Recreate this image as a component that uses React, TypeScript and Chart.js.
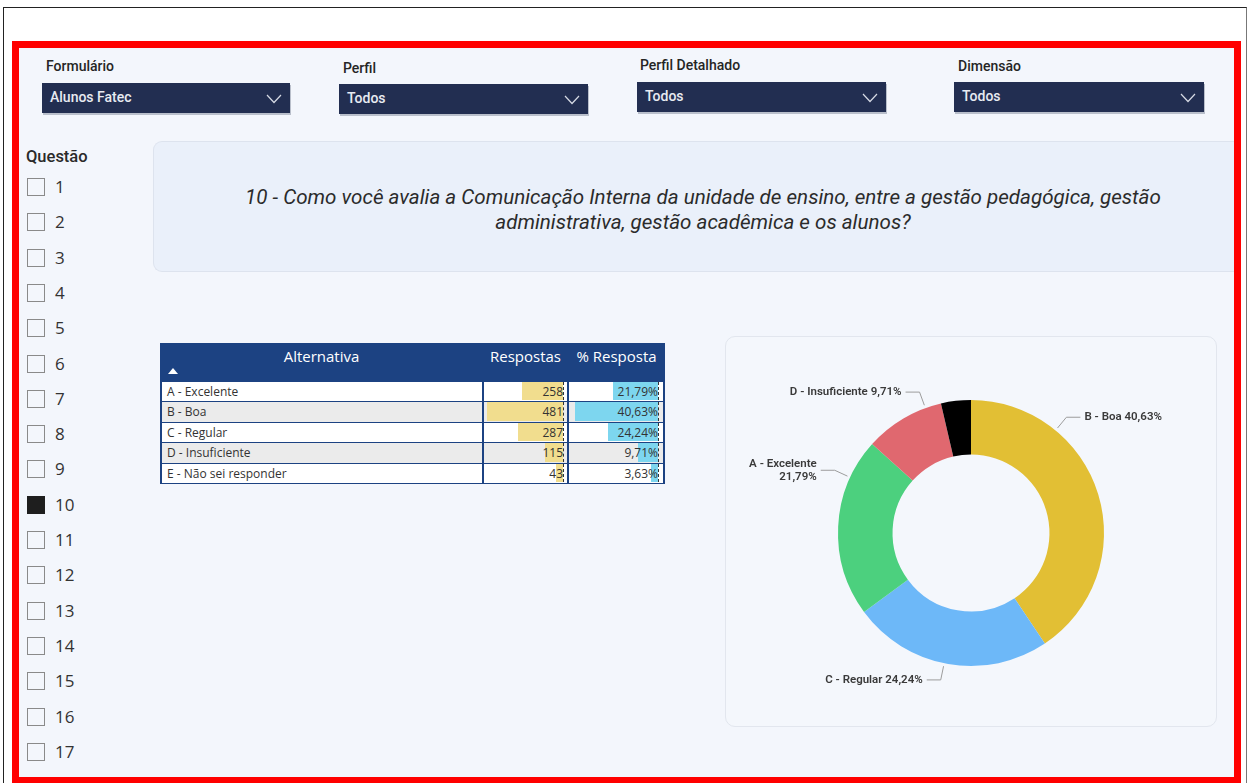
import React, { useEffect, useRef } from 'react';
import { Chart, registerables } from 'chart.js';

Chart.register(...registerables);

// ---------- DATA ----------
const alternatives = ['A - Excelente', 'B - Boa', 'C - Regular', 'D - Insuficiente', 'E - Não sei responder'];
const responses = [258, 481, 287, 115, 43];
const percents = [21.79, 40.63, 24.24, 9.71, 3.63];
const sliceColors = ['#4CD07E', '#E2BF34', '#6DB8F8', '#E0686F', '#000000'];

const filterLabels = ['Formulário', 'Perfil', 'Perfil Detalhado', 'Dimensão'];
const filterValues = ['Alunos Fatec', 'Todos', 'Todos', 'Todos'];

const questionNumbers = [1, 2, 3, 4, 5, 6, 7, 8, 9, 10, 11, 12, 13, 14, 15, 16, 17];
const selectedQuestion = 10;
const questionTitle = [
  '10 - Como você avalia a Comunicação Interna da unidade de ensino, entre a gestão pedagógica, gestão',
  'administrativa, gestão acadêmica e os alunos?',
];

// ---------- LAYOUT / STYLE (not data) ----------
// where along each slice (0..1) the leader line is attached; null = no label
const labelAnchorFrac = [0.78, 0.27, 0.52, 0.8, null];
const labelWrap = [true, false, false, false, false];

const fmtPct = (v: number) => v.toFixed(2).replace('.', ',') + '%';

const DIN = 'Roboto, "Noto Sans", sans-serif';
const SEGOE = '"Open Sans", "Noto Sans", sans-serif';

const order = responses.map((_, i) => i).sort((a, b) => responses[b] - responses[a]);

const leaderPlugin = {
  id: 'leaderLabels',
  afterDatasetsDraw(chart: any) {
    const ctx = chart.ctx as CanvasRenderingContext2D;
    const meta = chart.getDatasetMeta(0);
    meta.data.forEach((arc: any, k: number) => {
      const i = order[k];
      const frac = labelAnchorFrac[i];
      if (frac == null) return;
      const p = arc.getProps(['x', 'y', 'startAngle', 'endAngle', 'outerRadius'], true);
      const a = p.startAngle + (p.endAngle - p.startAngle) * frac;
      const r1 = p.outerRadius + 3;
      const r2 = p.outerRadius + 17;
      const x1 = p.x + Math.cos(a) * r1;
      const y1 = p.y + Math.sin(a) * r1;
      const x2 = p.x + Math.cos(a) * r2;
      const y2 = p.y + Math.sin(a) * r2;
      const right = Math.cos(a) >= 0;
      const x3 = x2 + (right ? 14 : -14);
      ctx.save();
      ctx.strokeStyle = '#9C9C9C';
      ctx.lineWidth = 1;
      ctx.beginPath();
      ctx.moveTo(x1, y1);
      ctx.lineTo(x2, y2);
      ctx.lineTo(x3, y2);
      ctx.stroke();
      ctx.fillStyle = '#3A3A3A';
      ctx.font = '600 11.5px ' + DIN;
      ctx.textAlign = right ? 'left' : 'right';
      ctx.textBaseline = 'middle';
      const lines = labelWrap[i]
        ? [alternatives[i], fmtPct(percents[i])]
        : [alternatives[i] + ' ' + fmtPct(percents[i])];
      const lh = 13;
      const tx = x3 + (right ? 4 : -4);
      lines.forEach((ln, j) => {
        ctx.fillText(ln, tx, y2 + (j - (lines.length - 1) / 2) * lh);
      });
      ctx.restore();
    });
  },
};

function Donut() {
  const ref = useRef<HTMLCanvasElement>(null);
  useEffect(() => {
    if (!ref.current) return;
    const chart = new Chart(ref.current, {
      type: 'doughnut',
      data: {
        labels: order.map((i) => alternatives[i]),
        datasets: [
          {
            data: order.map((i) => percents[i]),
            backgroundColor: order.map((i) => sliceColors[i]),
            borderWidth: 0,
          },
        ],
      },
      options: {
        responsive: false,
        animation: false,
        cutout: '59%',
        layout: { padding: { top: 64, bottom: 61, left: 0, right: 0 } },
        plugins: { legend: { display: false }, tooltip: { enabled: false } },
      },
      plugins: [leaderPlugin],
    });
    return () => chart.destroy();
  }, []);
  return <canvas ref={ref} width={492} height={391} style={{ display: 'block' }} />;
}

function Chevron() {
  return (
    <svg width="16" height="10" viewBox="0 0 16 10" style={{ position: 'absolute', right: 8, top: 11 }}>
      <polyline points="1,1 8,8.5 15,1" fill="none" stroke="#D6DAE4" strokeWidth="1.2" />
    </svg>
  );
}

const boxes = [
  { lx: 46, ly: 58, bx: 42, by: 83, w: 248 },
  { lx: 343, ly: 60, bx: 339, by: 84, w: 249 },
  { lx: 640, ly: 57, bx: 637, by: 82, w: 249 },
  { lx: 958, ly: 58, bx: 954, by: 82, w: 250 },
];

function Table() {
  const maxR = Math.max(...responses);
  const maxP = Math.max(...percents);
  const navy = '#1C4282';
  const rowTop = 381;
  const rowH = 20.4;
  return (
    <div style={{ position: 'absolute', left: 160, top: 343, width: 505, height: 141 }}>
      <div style={{ position: 'absolute', left: 0, top: 0, width: 505, height: 141, border: `2px solid ${navy}`, boxSizing: 'border-box' }} />
      <div style={{ position: 'absolute', left: 0, top: 0, width: 505, height: 38, background: navy }} />
      <div style={{ position: 'absolute', left: 0, top: 3, width: 323, textAlign: 'center', color: '#fff', font: `15px ${SEGOE}` }}>Alternativa</div>
      <svg width="10" height="6" style={{ position: 'absolute', left: 8, top: 25 }}>
        <polygon points="0,6 5,0 10,6" fill="#fff" />
      </svg>
      <div style={{ position: 'absolute', left: 323, top: 3, width: 85, textAlign: 'center', color: '#fff', font: `15px ${SEGOE}` }}>Respostas</div>
      <div style={{ position: 'absolute', left: 408, top: 3, width: 97, textAlign: 'center', color: '#fff', font: `15px ${SEGOE}` }}>% Resposta</div>
      {alternatives.map((alt, i) => {
        const top = rowTop - 343 + i * rowH;
        const bg = i % 2 === 1 ? '#EBEBEB' : '#FFFFFF';
        const wR = (responses[i] / maxR) * 76;
        const wP = (percents[i] / maxP) * 83;
        return (
          <div key={alt} style={{ position: 'absolute', left: 2, top, width: 501, height: rowH, background: bg }}>
            <div style={{ position: 'absolute', left: 401 - wR, top: 1, width: wR, height: rowH - 2, background: '#F1DD8E' }} />
            <div style={{ position: 'absolute', left: 496 - wP, top: 1, width: wP, height: rowH - 2, background: '#7DD6EF' }} />
            <div style={{ position: 'absolute', left: 401, top: 1, width: 0, height: rowH - 2, borderLeft: '1.5px dashed #333' }} />
            <div style={{ position: 'absolute', left: 496, top: 1, width: 0, height: rowH - 2, borderLeft: '1.5px dashed #333' }} />
            <div style={{ position: 'absolute', left: 5, top: 1, color: '#333', font: `12px ${SEGOE}`, lineHeight: `${rowH - 1}px` }}>{alt}</div>
            <div style={{ position: 'absolute', right: 501 - 401, top: 1, color: '#333', font: `12px ${SEGOE}`, lineHeight: `${rowH - 1}px` }}>{responses[i]}</div>
            <div style={{ position: 'absolute', right: 501 - 496, top: 1, color: '#333', font: `12px ${SEGOE}`, lineHeight: `${rowH - 1}px` }}>{fmtPct(percents[i])}</div>
            {i > 0 && <div style={{ position: 'absolute', left: 0, top: 0, width: 501, height: 1, background: navy }} />}
          </div>
        );
      })}
      <div style={{ position: 'absolute', left: 0, top: 37, width: 505, height: 2, background: navy }} />
      <div style={{ position: 'absolute', left: 322, top: 0, width: 1.5, height: 141, background: navy }} />
      <div style={{ position: 'absolute', left: 407, top: 0, width: 1.5, height: 141, background: navy }} />
    </div>
  );
}

export default function App() {
  useEffect(() => {
    document.body.style.margin = '0';
    document.body.style.background = '#fff';
  }, []);
  return (
    <div style={{ position: 'relative', width: 1252, height: 783, overflow: 'hidden', background: '#fff' }}>
      {/* outer frame */}
      <div style={{ position: 'absolute', left: 3, top: 7, width: 1244, height: 800, borderLeft: '1.5px solid #222', borderTop: '1.5px solid #222', borderRight: '1.5px solid #777', boxSizing: 'border-box' }} />
      {/* red frame */}
      <div style={{ position: 'absolute', left: 12, top: 41, width: 1229, height: 743, border: '7px solid #FF0000', boxSizing: 'border-box', background: '#F3F6FC' }} />

      {/* filters */}
      {boxes.map((b, i) => (
        <React.Fragment key={i}>
          <div style={{ position: 'absolute', left: b.lx, top: b.ly, font: `500 14px ${DIN}`, color: '#252525' }}>{filterLabels[i]}</div>
          <div style={{ position: 'absolute', left: b.bx, top: b.by, width: b.w, height: 30, background: '#222E51', boxShadow: '1px 2px 0 #B9BFCB' }}>
            <div style={{ position: 'absolute', left: 8, top: 6, font: `500 14px ${DIN}`, color: '#E8EBF2' }}>{filterValues[i]}</div>
            <Chevron />
          </div>
        </React.Fragment>
      ))}

      {/* question slicer */}
      <div style={{ position: 'absolute', left: 26, top: 147, font: `500 16.5px ${DIN}`, color: '#2A2A2A' }}>Questão</div>
      {questionNumbers.map((q, i) => {
        const cy = 187 + i * 35.3;
        const sel = q === selectedQuestion;
        return (
          <React.Fragment key={q}>
            <div style={{ position: 'absolute', left: 27, top: cy - 9, width: 18, height: 18, boxSizing: 'border-box', border: sel ? '1px solid #1E1E1E' : '1px solid #8A8A8A', background: sel ? '#1E1E1E' : 'transparent' }} />
            <div style={{ position: 'absolute', left: 55, top: cy - 12, font: `17px ${SEGOE}`, color: '#333', lineHeight: '24px' }}>{q}</div>
          </React.Fragment>
        );
      })}

      {/* title card (cut by the red frame on the right) */}
      <div style={{ position: 'absolute', left: 153, top: 141, width: 1081, height: 131, borderRadius: '9px 0 0 9px', background: '#EAF0FA', border: '1px solid #DDE3EE', borderRight: 'none', boxSizing: 'border-box' }} />
      <div style={{ position: 'absolute', left: 153, top: 185, width: 1100, textAlign: 'center', font: `italic 20.6px ${DIN}`, color: '#2B2B2B', lineHeight: '25px' }}>
        {questionTitle[0]}
        <br />
        {questionTitle[1]}
      </div>

      <Table />

      {/* donut card */}
      <div style={{ position: 'absolute', left: 725, top: 336, width: 492, height: 391, borderRadius: 10, border: '1px solid #E2E6EE', background: '#F4F7FC', boxSizing: 'border-box' }} />
      <div style={{ position: 'absolute', left: 725, top: 336, width: 492, height: 391 }}>
        <Donut />
      </div>
    </div>
  );
}
